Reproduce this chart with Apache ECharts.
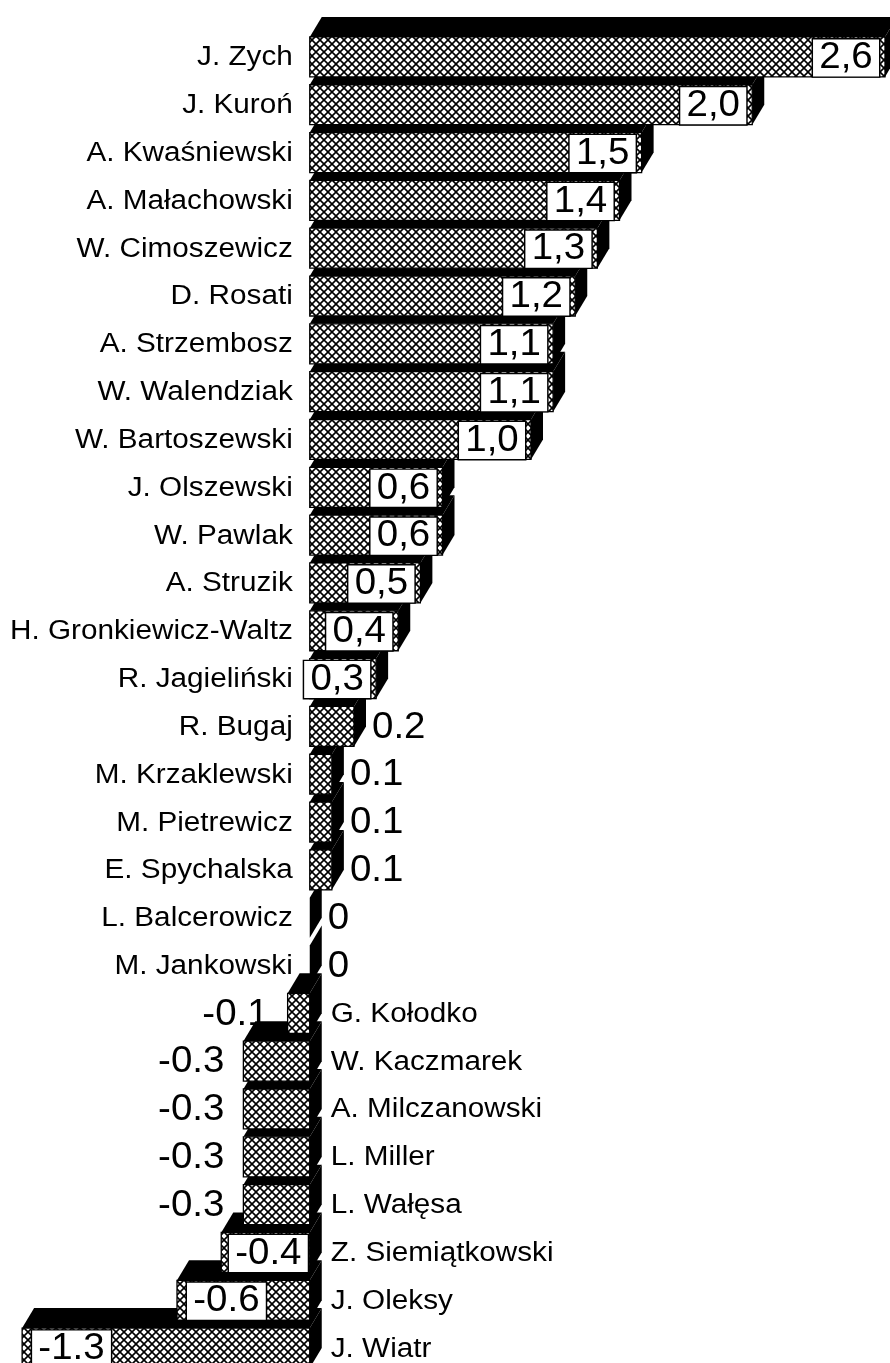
<!DOCTYPE html>
<html>
<head>
<meta charset="utf-8">
<title>Ranking</title>
<script src="https://cdn.jsdelivr.net/npm/echarts@6/dist/echarts.min.js"></script>
<style>
  html, body { margin: 0; padding: 0; background: #fff; overflow: hidden; }
  #main { width: 890px; height: 1380px; }
</style>
</head>
<body>
<div id="main"></div>
<script>
const names = [
  'J. Zych', 'J. Kuroń', 'A. Kwaśniewski', 'A. Małachowski', 'W. Cimoszewicz',
  'D. Rosati', 'A. Strzembosz', 'W. Walendziak', 'W. Bartoszewski', 'J. Olszewski',
  'W. Pawlak', 'A. Struzik', 'H. Gronkiewicz-Waltz', 'R. Jagieliński', 'R. Bugaj',
  'M. Krzaklewski', 'M. Pietrewicz', 'E. Spychalska', 'L. Balcerowicz', 'M. Jankowski',
  'G. Kołodko', 'W. Kaczmarek', 'A. Milczanowski', 'L. Miller', 'L. Wałęsa',
  'Z. Siemiątkowski', 'J. Oleksy', 'J. Wiatr'
]
const values = [
  2.6, 2.0, 1.5, 1.4, 1.3,
  1.2, 1.1, 1.1, 1.0, 0.6,
  0.6, 0.5, 0.4, 0.3, 0.2,
  0.1, 0.1, 0.1, 0, 0,
  -0.1, -0.3, -0.3, -0.3, -0.3,
  -0.4, -0.6, -1.3
]

const font = '"Liberation Sans", Arial, sans-serif'
const nameStretch = 1.1 // names in the original are a bit wider than normal
const valueStretch = 1.04
const dx = 12 // depth of the 3d boxes
const dy = 20

// cross hatch fill
const tile = document.createElement('canvas')
tile.width = 8
tile.height = 8
const ctx = tile.getContext('2d')
ctx.fillStyle = '#fff'
ctx.fillRect(0, 0, 8, 8)
ctx.strokeStyle = '#000'
ctx.lineWidth = 1.6
ctx.beginPath()
ctx.moveTo(-1, -1); ctx.lineTo(9, 9)
ctx.moveTo(9, -1); ctx.lineTo(-1, 9)
ctx.stroke()
const hatch = { image: tile, repeat: 'repeat' }

function labelText(v) {
  if (v === 0) return '0'
  if (v >= 0.3) return v.toFixed(1).replace('.', ',')
  return v.toFixed(1)
}

function isBoxed(v) {
  return v >= 0.3 || v <= -0.4
}

function renderItem(params, api) {
  const v = api.value(0)
  const i = api.value(1)
  const p0 = api.coord([0, i])
  const p1 = api.coord([v, i])
  const band = api.size([0, 1])[1]
  const h = band * 0.836
  const cy = p0[1]
  const top = cy - h / 2
  const bot = cy + h / 2
  const left = Math.min(p0[0], p1[0])
  const right = Math.max(p0[0], p1[0])
  const z = (names.length - i) * 10
  const children = []

  children.push({
    type: 'polygon',
    shape: { points: [[left, top], [right, top], [right + dx, top - dy], [left + dx, top - dy]] },
    style: { fill: '#000' },
    z2: z
  })
  children.push({
    type: 'polygon',
    shape: { points: [[right, top], [right, bot], [right + dx, bot - dy], [right + dx, top - dy]] },
    style: { fill: '#000' },
    z2: z + 1
  })
  if (right > left) {
    children.push({
      type: 'rect',
      shape: { x: left, y: top, width: right - left, height: h },
      style: { fill: hatch, stroke: '#000', lineWidth: 1.3 },
      z2: z + 2
    })
  }

  // category name: left of the axis for v >= 0, right of it for v < 0
  children.push({
    type: 'text',
    x: v >= 0 ? p0[0] - 17 : p0[0] + 21,
    y: cy + 1,
    scaleX: nameStretch,
    style: {
      text: names[i],
      fontSize: 27,
      fontFamily: font,
      fill: '#000',
      align: v >= 0 ? 'right' : 'left',
      verticalAlign: 'middle'
    },
    z2: 5000
  })

  // value label
  const labelStyle = {
    text: labelText(v),
    fontSize: 37,
    fontFamily: font,
    fill: '#000',
    verticalAlign: 'middle'
  }
  let lx
  if (isBoxed(v)) {
    Object.assign(labelStyle, {
      backgroundColor: '#fff',
      borderColor: '#000',
      borderWidth: 1.4,
      padding: [1, 6, 0, 6],
      lineHeight: 36
    })
    if (v > 0) {
      lx = right - 6
      labelStyle.align = 'right'
    } else if (right - left < 100) {
      lx = right - 2
      labelStyle.align = 'right'
    } else {
      lx = left + 10
      labelStyle.align = 'left'
    }
  } else if (v >= 0) {
    lx = right + dx + 6
    labelStyle.align = 'left'
  } else {
    lx = left - 19
    labelStyle.align = 'right'
  }
  children.push({
    type: 'text',
    x: lx,
    y: cy + 1,
    scaleX: valueStretch,
    style: labelStyle,
    z2: 6000
  })

  return { type: 'group', children }
}

const chart = echarts.init(document.getElementById('main'))
chart.setOption({
  animation: false,
  grid: { left: 0, top: 33, width: 885, height: 1339 },
  xAxis: { type: 'value', min: -1.4, max: 2.6, show: false },
  yAxis: { type: 'category', data: names, inverse: true, show: false },
  series: [{
    type: 'custom',
    clip: false,
    renderItem,
    encode: { x: 0, y: 1 },
    data: values.map((v, i) => [v, i])
  }]
})
</script>
</body>
</html>
